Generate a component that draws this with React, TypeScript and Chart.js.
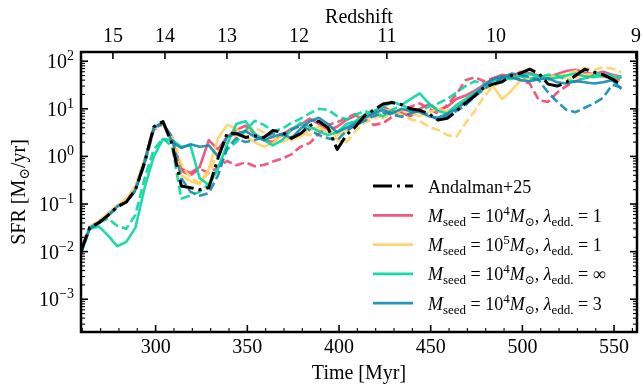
import React, { useEffect, useRef } from "react";
import { Chart, registerables } from "chart.js";

Chart.register(...registerables);

// ---------------- data ----------------
const TIME_MYR = [
  259, 264, 269, 274, 279, 284, 289, 294, 299, 304,
  309, 314, 319, 324, 329, 334, 339, 344, 349, 354,
  359, 364, 369, 374, 379, 384, 389, 394, 399, 404,
  409, 414, 419, 424, 429, 434, 439, 444, 449, 454,
  459, 464, 469, 474, 479, 484, 489, 494, 499, 504,
  509, 514, 519, 524, 529, 534, 539, 544, 549, 554,
];

const SFR_ANDALMAN = [
  0.0095, 0.032, 0.040, 0.058, 0.087, 0.11, 0.20, 0.75, 4.2, 5.4,
  1.8, 0.24, 0.22, 0.20, 0.22, 0.91, 3.1, 3.0, 2.5, 2.7,
  2.5, 3.5, 3.2, 2.4, 3.0, 4.4, 5.5, 4.0, 1.4, 2.8,
  4.2, 7.2, 9.5, 12.6, 13.5, 12.3, 10, 9.3, 7.9, 5.8,
  6.3, 8.9, 13.2, 18.6, 28, 33, 37, 50, 56, 68,
  55, 33, 30, 36, 50, 68, 59, 52, 42, 32,
];

const SFR_M4_L1_A = [
  0.011, 0.030, 0.043, 0.062, 0.092, 0.12, 0.22, 0.85, 4.0, 5.0,
  2.2, 0.55, 0.45, 0.60, 2.2, 1.4, 2.6, 3.6, 4.4, 3.0,
  2.2, 2.0, 2.9, 3.8, 4.6, 6.2, 4.8, 3.6, 4.2, 5.8,
  7.2, 6.0, 8.6, 11, 9.0, 8.2, 7.0, 10, 12.5, 9.5,
  11, 16, 19, 24, 32, 44, 52, 47, 60, 56,
  50, 46, 54, 62, 66, 58, 54, 60, 52, 47,
];
const SFR_M4_L1_B = [
  0.010, 0.033, 0.041, 0.060, 0.090, 0.115, 0.21, 0.70, 3.6, 4.8,
  2.6, 0.50, 0.40, 0.55, 0.45, 0.60, 0.80, 0.65, 0.75, 0.62,
  0.66, 0.78, 0.90, 1.1, 1.6, 1.9, 3.0, 4.6, 5.2, 6.4,
  7.8, 6.2, 4.6, 5.0, 6.8, 9.0, 11, 13, 10, 8.0,
  12, 20, 40, 46, 38, 44, 48, 52, 40, 34,
  15, 14, 22, 30, 38, 44, 50, 48, 44, 40,
];

const SFR_M5_L1_A = [
  0.010, 0.031, 0.042, 0.061, 0.090, 0.12, 0.22, 0.80, 4.0, 5.2,
  2.3, 0.40, 0.30, 0.26, 0.55, 2.4, 4.6, 3.8, 2.6, 2.0,
  1.6, 1.9, 2.8, 2.2, 2.6, 3.6, 4.2, 3.2, 2.8, 3.4,
  4.6, 6.0, 7.5, 6.5, 8.0, 9.5, 8.2, 7.0, 8.5, 10,
  9.0, 11, 14, 20, 26, 30, 16, 24, 40, 45,
  42, 50, 48, 44, 46, 52, 55, 50, 48, 45,
];
const SFR_M5_L1_B = [
  0.0105, 0.034, 0.044, 0.063, 0.095, 0.13, 0.24, 0.90, 3.8, 4.6,
  2.6, 0.70, 0.35, 0.28, 0.45, 1.2, 2.0, 2.6, 3.4, 4.0,
  3.2, 2.4, 2.0, 2.6, 3.2, 2.8, 3.6, 4.4, 2.2, 2.0,
  3.4, 5.2, 6.0, 8.5, 10, 7.5, 6.0, 5.5, 4.2, 3.6,
  2.8, 2.6, 5.0, 9.0, 18, 30, 38, 45, 48, 50,
  46, 40, 48, 55, 62, 72, 65, 74, 70, 58,
];

const SFR_M4_LINF_A = [
  0.0085, 0.030, 0.034, 0.022, 0.013, 0.016, 0.032, 0.22, 1.0, 2.3,
  2.2, 1.6, 1.7, 0.35, 0.25, 0.55, 1.8, 4.8, 5.5, 3.0,
  2.2, 1.7, 2.2, 3.6, 5.0, 4.2, 3.4, 2.8, 3.2, 4.8,
  5.5, 7.5, 9.0, 11, 14, 12, 16, 21, 13, 9.0,
  8.0, 12, 16, 22, 30, 38, 45, 42, 50, 54,
  48, 42, 45, 50, 55, 48, 46, 50, 47, 45,
];
const SFR_M4_LINF_B = [
  0.0090, 0.032, 0.040, 0.050, 0.035, 0.030, 0.06, 0.35, 1.4, 2.4,
  1.6, 0.13, 0.15, 0.18, 0.26, 0.60, 1.4, 2.0, 3.5, 5.6,
  4.6, 3.4, 3.8, 5.0, 6.2, 8.0, 10, 9.5, 7.0, 6.0,
  7.5, 9.0, 8.0, 7.0, 9.5, 12, 10, 9.0, 11, 13,
  16, 22, 30, 38, 34, 30, 45, 52, 48, 42,
  46, 52, 50, 40, 38, 44, 52, 55, 50, 46,
];

const SFR_M4_L3_A = [
  0.0090, 0.031, 0.041, 0.057, 0.088, 0.11, 0.20, 0.78, 4.0, 5.2,
  2.0, 1.5, 1.8, 1.6, 1.7, 1.0, 2.6, 3.0, 3.4, 2.6,
  2.2, 2.6, 3.0, 2.4, 3.8, 5.5, 6.5, 4.8, 3.2, 4.0,
  5.0, 6.5, 8.0, 9.5, 8.0, 10, 9.0, 8.5, 7.0, 6.5,
  7.8, 10, 14, 20, 30, 42, 48, 46, 40, 38,
  42, 44, 36, 34, 38, 36, 34, 36, 40, 26,
];
const SFR_M4_L3_B = [
  0.0088, 0.030, 0.039, 0.056, 0.085, 0.11, 0.19, 0.72, 3.8, 5.0,
  2.5, 0.35, 0.18, 0.15, 0.17, 0.40, 1.5, 2.4, 2.0, 2.2,
  2.6, 3.0, 2.8, 3.6, 4.4, 3.6, 2.8, 2.4, 2.2, 3.4,
  4.6, 5.6, 7.0, 8.4, 7.6, 6.8, 8.0, 9.5, 7.2, 6.0,
  7.0, 9.0, 12, 18, 26, 34, 44, 55, 52, 46,
  40, 22, 14, 9.5, 8.5, 10.5, 13, 17, 32, 28,
];

const TIME_TICKS = [300, 350, 400, 450, 500, 550];
const REDSHIFT_LABELS = ["15", "14", "13", "12", "11", "10", "9"];
const REDSHIFT_TIMES = [276.7, 305.1, 338.9, 378.2, 426.1, 485.6, 561.9];
const LOG_DECADES = [-3, -2, -1, 0, 1, 2];

const X_MIN = 259.3;
const X_MAX = 562.5;
const Y_MIN = 2.05e-4;
const Y_MAX = 156;

const PINK = "rgba(239,71,111,0.9)";
const YELLOW = "rgba(255,209,102,0.9)";
const GREEN = "rgba(6,214,160,0.9)";
const BLUE = "rgba(17,138,178,0.9)";

const SERIF = '"Liberation Serif", "DejaVu Serif", serif';

type Seg = { t: string; size?: number; it?: boolean; dy?: number };

function richWidth(ctx: CanvasRenderingContext2D, segs: Seg[], base: number) {
  let w = 0;
  for (const s of segs) {
    ctx.font = `${s.it ? "italic " : ""}${s.size ?? base}px ${SERIF}`;
    w += ctx.measureText(s.t).width;
  }
  return w;
}
function drawRich(ctx: CanvasRenderingContext2D, segs: Seg[], x: number, y: number, base: number) {
  let cx = x;
  for (const s of segs) {
    ctx.font = `${s.it ? "italic " : ""}${s.size ?? base}px ${SERIF}`;
    ctx.fillText(s.t, cx, y + (s.dy ?? 0));
    cx += ctx.measureText(s.t).width;
  }
}

function seedLabel(exp: string, lam: string): Seg[] {
  return [
    { t: "M", it: true },
    { t: "seed", size: 13, dy: 4 },
    { t: " = " },
    { t: "10" },
    { t: exp, size: 13, dy: -7 },
    { t: "M", it: true },
    { t: "⊙", size: 12, dy: 4 },
    { t: ", " },
    { t: "λ", it: true },
    { t: "edd.", size: 13, dy: 4 },
    { t: " = " },
    { t: lam },
  ];
}

const LEGEND_ITEMS: { segs: Seg[]; color: string; dash: number[]; width: number }[] = [
  { segs: [{ t: "Andalman+25" }], color: "#000", dash: [19, 5, 3, 5], width: 3 },
  { segs: seedLabel("4", "1"), color: PINK, dash: [], width: 2.8 },
  { segs: seedLabel("5", "1"), color: YELLOW, dash: [], width: 2.8 },
  { segs: seedLabel("4", "∞"), color: GREEN, dash: [], width: 2.8 },
  { segs: seedLabel("4", "3"), color: BLUE, dash: [], width: 2.8 },
];

const axesPlugin = {
  id: "sfrAxes",
  afterDatasetsDraw(chart: any) {
    const { ctx, chartArea: a, scales } = chart;
    const xs = scales.x;
    const ys = scales.y;
    ctx.save();
    ctx.strokeStyle = "#000";
    const tick = (x1: number, y1: number, x2: number, y2: number) => {
      ctx.beginPath();
      ctx.moveTo(x1, y1);
      ctx.lineTo(x2, y2);
      ctx.stroke();
    };
    for (let t = 260; t <= 560; t += 10) {
      const px = xs.getPixelForValue(t);
      const major = t % 50 === 0;
      ctx.lineWidth = major ? 1.6 : 1.1;
      tick(px, a.bottom, px, a.bottom - (major ? 7 : 4));
    }
    ctx.lineWidth = 1.6;
    REDSHIFT_TIMES.forEach((t) => {
      const px = xs.getPixelForValue(t);
      tick(px, a.top, px, a.top + 7);
    });
    for (let d = -4; d <= 2; d++) {
      for (let k = 1; k <= 9; k++) {
        const v = k * Math.pow(10, d);
        if (v < Y_MIN || v > Y_MAX) continue;
        const py = ys.getPixelForValue(v);
        const len = k === 1 ? 7 : 4;
        ctx.lineWidth = k === 1 ? 1.6 : 1.1;
        tick(a.left, py, a.left + len, py);
        tick(a.right, py, a.right - len, py);
      }
    }
    ctx.lineWidth = 2.5;
    ctx.strokeRect(a.left, a.top, a.right - a.left, a.bottom - a.top);
    ctx.restore();
  },
  afterDraw(chart: any) {
    const { ctx, chartArea: a, scales } = chart;
    const xs = scales.x;
    const ys = scales.y;
    ctx.save();
    ctx.fillStyle = "#000";
    ctx.textBaseline = "alphabetic";

    // bottom tick labels
    ctx.font = `20px ${SERIF}`;
    ctx.textAlign = "center";
    TIME_TICKS.forEach((t) => ctx.fillText(String(t), xs.getPixelForValue(t), a.bottom + 21));
    ctx.fillText("Time [Myr]", (a.left + a.right) / 2, a.bottom + 47);

    // top tick labels (redshift)
    REDSHIFT_TIMES.forEach((t, i) => ctx.fillText(REDSHIFT_LABELS[i], xs.getPixelForValue(t), a.top - 10));
    ctx.fillText("Redshift", (a.left + a.right) / 2, a.top - 29);

    // left tick labels 10^n
    ctx.textAlign = "left";
    LOG_DECADES.forEach((d) => {
      const exp = d < 0 ? "\u2212" + String(-d) : String(d);
      const segs: Seg[] = [{ t: "10" }, { t: exp, size: 14, dy: -8 }];
      const w = richWidth(ctx, segs, 20);
      const py = ys.getPixelForValue(Math.pow(10, d));
      drawRich(ctx, segs, a.left - 7 - w, py + 7, 20);
    });

    // y axis title
    const ySegs: Seg[] = [{ t: "SFR [M" }, { t: "⊙", size: 14, dy: 4 }, { t: "/yr]" }];
    const yw = richWidth(ctx, ySegs, 20);
    ctx.save();
    ctx.translate(a.left - 56, (a.top + a.bottom) / 2);
    ctx.rotate(-Math.PI / 2);
    drawRich(ctx, ySegs, -yw / 2, 0, 20);
    ctx.restore();

    // legend
    const lx0 = 373;
    const lx1 = 413;
    const tx = 428;
    LEGEND_ITEMS.forEach((it, i) => {
      const ry = 186 + i * 29.3;
      ctx.save();
      ctx.strokeStyle = it.color;
      ctx.lineWidth = it.width;
      ctx.setLineDash(it.dash);
      ctx.beginPath();
      ctx.moveTo(lx0, ry);
      ctx.lineTo(lx1, ry);
      ctx.stroke();
      ctx.restore();
      ctx.fillStyle = "#000";
      drawRich(ctx, it.segs, tx, ry + 6.5, 18);
    });
    ctx.restore();
  },
};

function mk(label: string, values: number[], color: string, dash: number[], width: number) {
  return {
    label,
    data: TIME_MYR.map((t, i) => ({ x: t, y: values[i] })),
    borderColor: color,
    backgroundColor: color,
    borderWidth: width,
    borderDash: dash,
    pointRadius: 0,
    fill: false,
    tension: 0,
  };
}

export default function App() {
  const ref = useRef<HTMLCanvasElement>(null);
  useEffect(() => {
    const canvas = ref.current;
    if (!canvas) return;
    const dashed = [9, 4];
    const chart = new Chart(canvas, {
      type: "line",
      data: {
        datasets: [
          mk("Andalman+25", SFR_ANDALMAN, "#000", [19, 5, 3, 5], 3),
          mk("M4 l3 a", SFR_M4_L3_A, BLUE, [], 2.6),
          mk("M4 l3 b", SFR_M4_L3_B, BLUE, dashed, 2.6),
          mk("M4 linf a", SFR_M4_LINF_A, GREEN, [], 2.6),
          mk("M4 linf b", SFR_M4_LINF_B, GREEN, dashed, 2.6),
          mk("M5 l1 a", SFR_M5_L1_A, YELLOW, [], 2.6),
          mk("M5 l1 b", SFR_M5_L1_B, YELLOW, dashed, 2.6),
          mk("M4 l1 a", SFR_M4_L1_A, PINK, [], 2.6),
          mk("M4 l1 b", SFR_M4_L1_B, PINK, dashed, 2.6),
        ],
      },
      options: {
        responsive: false,
        devicePixelRatio: 1,
        animation: false,
        parsing: true,
        layout: { padding: { left: 81, top: 52, right: 6, bottom: 53 } },
        scales: {
          x: { type: "linear", min: X_MIN, max: X_MAX, display: false },
          y: { type: "logarithmic", min: Y_MIN, max: Y_MAX, display: false },
        },
        plugins: { legend: { display: false }, tooltip: { enabled: false } },
        elements: {
          point: { radius: 0 },
          line: { tension: 0, borderJoinStyle: "round", borderCapStyle: "butt" },
        },
      } as any,
      plugins: [axesPlugin],
    });
    return () => chart.destroy();
  }, []);
  return (
    <canvas
      ref={ref}
      width={643}
      height={385}
      style={{ position: "fixed", left: 0, top: 0, width: 643, height: 385, background: "#fff" }}
    />
  );
}
